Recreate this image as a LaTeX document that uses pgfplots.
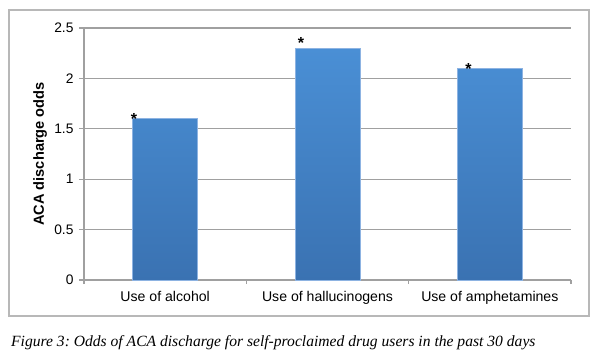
\documentclass[border=0pt]{standalone}
\usepackage{fontspec}
\setmainfont{Liberation Sans}
\newfontfamily\capfont{Liberation Serif}
\usepackage{pgfplots}
\pgfplotsset{compat=1.18}
\definecolor{bartop}{HTML}{4A8FD5}
\definecolor{barbot}{HTML}{3A72B2}
\definecolor{bareds}{HTML}{8DB3E2}
\definecolor{gridc}{HTML}{A0A0A0}
\definecolor{framec}{HTML}{B8B8B8}
\frenchspacing
\begin{document}
\begin{tikzpicture}[x=1pt,y=1pt]
\path (0,0) rectangle (600,362);
\draw[framec, line width=1.2pt] (9,46) rectangle (589,352);
\begin{axis}[
  at={(84pt,82pt)}, anchor=south west,
  scale only axis, width=487pt, height=252pt,
  xmin=-0.5, xmax=2.5, ymin=0, ymax=2.5,
  xtick={0,1,2},
  xticklabels={Use of alcohol, Use of hallucinogens, Use of amphetamines},
  minor xtick={-0.5,0.5,1.5,2.5},
  ytick={0,0.5,1,1.5,2,2.5},
  axis x line*=bottom, axis y line*=left,
  axis line style={gridc, line width=1.1pt, -},
  tick align=outside,
  major tick length=5pt, minor tick length=4pt,
  major x tick style={draw=none},
  minor x tick style={gridc, line width=1.1pt},
  ytick style={gridc, line width=1.1pt},
  ymajorgrids, grid style={gridc, line width=1.1pt},
  /pgf/number format/assume math mode=true,
  xticklabel style={yshift=-3pt, font=\fontsize{14.1}{16}\selectfont, text=black},
  yticklabel style={xshift=-2pt, font=\fontsize{13.8}{16}\selectfont, text=black},
  ylabel={ACA discharge odds},
  ylabel style={at={(axis description cs:-0.0903,0.5)}, anchor=center, font=\bfseries\fontsize{14.6}{16}\selectfont},
  clip=false,
]
\addplot[ybar, bar width=65pt, draw=bareds, line width=0.6pt, top color=bartop, bottom color=barbot]
  coordinates {(0,1.6) (1,2.3) (2,2.1)};
\node[inner sep=0, font=\bfseries\fontsize{16}{16}\selectfont, yshift=-3pt] at (axis cs:-0.192,1.627) {*};
\node[inner sep=0, font=\bfseries\fontsize{16}{16}\selectfont, yshift=-3pt] at (axis cs:0.837,2.381) {*};
\node[inner sep=0, font=\bfseries\fontsize{16}{16}\selectfont, yshift=-3pt] at (axis cs:1.868,2.126) {*};
\end{axis}
\node[anchor=base west, inner sep=0, font=\capfont\itshape\fontsize{15.6}{18}\selectfont] at (11,15.3)
  {Figure 3: Odds of ACA discharge for self-proclaimed drug users in the past 30 days};
\end{tikzpicture}
\end{document}
